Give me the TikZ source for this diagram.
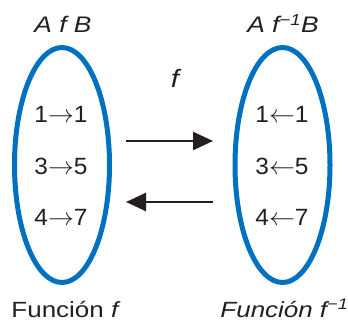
\documentclass[tikz,border=0pt]{standalone}
\usepackage{fontspec}
\setmainfont{Liberation Sans}
\usetikzlibrary{shapes.geometric,arrows.meta}
\definecolor{setblue}{RGB}{0,112,192}
\definecolor{ink}{RGB}{35,31,32}
\tikzset{
  setoval/.style={draw=setblue, line width=5pt, ellipse, inner sep=0pt, minimum width=95pt, minimum height=235pt},
  pair/.style={text=ink, font=\fontsize{23.5}{28}\selectfont, inner sep=0pt, anchor=center, xscale=1.04, transform shape},
  head/.style={text=ink, font=\fontsize{22.5}{26}\selectfont\itshape, inner sep=0pt, anchor=base, xscale=1.17, transform shape},
  foot/.style={text=ink, font=\fontsize{22}{25}\selectfont, inner sep=0pt, anchor=base, xscale=1.18, transform shape},
  maparrow/.style={draw=ink, line width=2.6pt, -{Triangle[length=20pt,width=18pt]}}
}
\begin{document}
\begin{tikzpicture}[x=1pt,y=-1pt]
\useasboundingbox (0,0) rectangle (348,321);
\node[setoval] (L) at (62,165) {};
\node[setoval] (R) at (282.5,165) {};
\node[head] (hL) at (63,33) {A f B};
\node[head] (hR) at (283,33) {A f\textsuperscript{−1}B};
\node[head, font=\fontsize{25}{28}\selectfont\itshape] (fl) at (175,87) {f};
\node[pair] (l1) at (61,114.5) {1$\rightarrow$1};
\node[pair] (l2) at (61,166) {3$\rightarrow$5};
\node[pair] (l3) at (61,217.5) {4$\rightarrow$7};
\node[pair] (r1) at (282,114.5) {1$\leftarrow$1};
\node[pair] (r2) at (282,166) {3$\leftarrow$5};
\node[pair] (r3) at (282,217.5) {4$\leftarrow$7};
\coordinate (a1s) at (126,141);
\coordinate (a1e) at (213,141);
\coordinate (a2s) at (213,202);
\coordinate (a2e) at (126,202);
\draw[maparrow] (a1s) -- (a1e);
\draw[maparrow] (a2s) -- (a2e);
\node[foot] (fL) at (66,317.5) {Función \textit{f}};
\node[foot] (fR) at (284.5,317.5) {\textit{Función f\textsuperscript{−1}}};
\end{tikzpicture}
\end{document}
